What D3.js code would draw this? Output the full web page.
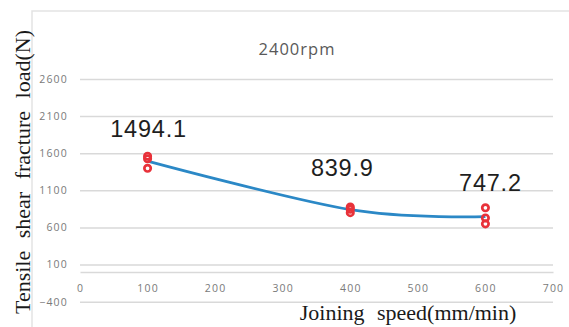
<!DOCTYPE html>
<html>
<head>
<meta charset="utf-8">
<script src="https://cdn.jsdelivr.net/npm/d3@7/dist/d3.min.js"></script>
<style>
  html, body { margin: 0; padding: 0; background: #fff; }
  svg { display: block; }
</style>
</head>
<body>
<svg id="chart" width="569" height="327"></svg>
<script>
// Joining speed (mm/min) of each test group
const speeds = [100, 400, 600];
// Mean tensile shear fracture load (N) per group
const meanLoad = [1494.1, 839.9, 747.2];
// Individual specimen loads (N) per group
const specimenLoad = [
  [1560, 1525, 1397.3],
  [875, 845, 799.7],
  [865, 728, 648.6]
];
const yTicks = [-400, 100, 600, 1100, 1600, 2100, 2600];
const xTicks = [0, 100, 200, 300, 400, 500, 600, 700];
const chartTitle = "2400rpm";
const yTitle = "Tensile shear fracture load(N)";
const xTitle = "Joining speed(mm/min)";

const svg = d3.select("#chart");

const x = d3.scaleLinear().domain([0, 700]).range([80, 553]);
const y = d3.scaleLinear().domain([-400, 2600]).range([301.7, 79]);

// outer frame (top and left edges)
svg.append("path")
  .attr("d", "M32,327V11H569")
  .attr("fill", "none")
  .attr("stroke", "#e3e3e3")
  .attr("stroke-width", 1.5);

// horizontal gridlines and value ticks
const gy = svg.append("g")
  .attr("transform", `translate(${x.range()[0]},0)`)
  .call(d3.axisLeft(y).tickValues(yTicks).tickSize(-(x.range()[1] - x.range()[0])).tickPadding(12).tickFormat(d3.format("d")));
gy.select(".domain").remove();
gy.selectAll(".tick line").attr("stroke", "#d9d9d9").attr("stroke-width", 1.5);
gy.selectAll(".tick text")
  .attr("fill", "#7a7a7a")
  .style("font-family", "'Open Sans', sans-serif")
  .style("font-size", "10.5px")
  .style("letter-spacing", "1.2px");

// horizontal axis at zero load
const gx = svg.append("g")
  .attr("transform", `translate(0,${y(0)})`)
  .call(d3.axisBottom(x).tickValues(xTicks).tickSize(0).tickPadding(13).tickFormat(d3.format("d")));
gx.select(".domain").attr("stroke", "#d9d9d9").attr("stroke-width", 1.5);
gx.selectAll(".tick text")
  .attr("fill", "#7a7a7a")
  .style("font-family", "'Open Sans', sans-serif")
  .style("font-size", "10.5px")
  .style("letter-spacing", "1.2px");

// smoothed mean-load curve
const line = d3.line()
  .x((d, i) => x(speeds[i]))
  .y(d => y(d))
  .curve(d3.curveCardinal.tension(0));
svg.append("path")
  .datum(meanLoad)
  .attr("d", line)
  .attr("fill", "none")
  .attr("stroke", "#2b88c6")
  .attr("stroke-width", 2.8);

// specimen markers
const pts = [];
speeds.forEach((s, i) => specimenLoad[i].forEach(v => pts.push({ s, v })));
svg.append("g").selectAll("circle")
  .data(pts)
  .join("circle")
  .attr("cx", d => x(d.s))
  .attr("cy", d => y(d.v))
  .attr("r", 3.2)
  .attr("fill", "none")
  .attr("stroke", "#e8323a")
  .attr("stroke-width", 2.7);

// mean value labels (offsets in px from each group's mean point)
const labelShift = [[1, -24], [-8, -34], [5, -26]];
svg.append("g").selectAll("text")
  .data(meanLoad)
  .join("text")
  .attr("x", (d, i) => x(speeds[i]) + labelShift[i][0])
  .attr("y", (d, i) => y(d) + labelShift[i][1])
  .attr("text-anchor", "middle")
  .attr("fill", "#1e1e1e")
  .style("font-family", "'Liberation Sans', Arial, sans-serif")
  .style("font-size", "23.5px")
  .style("letter-spacing", "0.8px")
  .text(d => d3.format(".1f")(d));

// chart title
svg.append("text")
  .attr("x", 297).attr("y", 55)
  .attr("text-anchor", "middle")
  .attr("fill", "#595959")
  .style("font-family", "'Open Sans', sans-serif")
  .style("font-size", "16.5px")
  .style("letter-spacing", "1px")
  .text(chartTitle);

// axis titles
svg.append("text")
  .attr("transform", "translate(30,172) rotate(-90)")
  .attr("text-anchor", "middle")
  .attr("fill", "#1a1a1a")
  .style("font-family", "'Liberation Serif', 'Times New Roman', serif")
  .style("font-size", "22px")
  .style("word-spacing", "7px")
  .text(yTitle);

svg.append("text")
  .attr("x", 408).attr("y", 320)
  .attr("text-anchor", "middle")
  .attr("fill", "#1a1a1a")
  .style("font-family", "'Liberation Serif', 'Times New Roman', serif")
  .style("font-size", "22px")
  .style("word-spacing", "7px")
  .text(xTitle);
</script>
</body>
</html>
